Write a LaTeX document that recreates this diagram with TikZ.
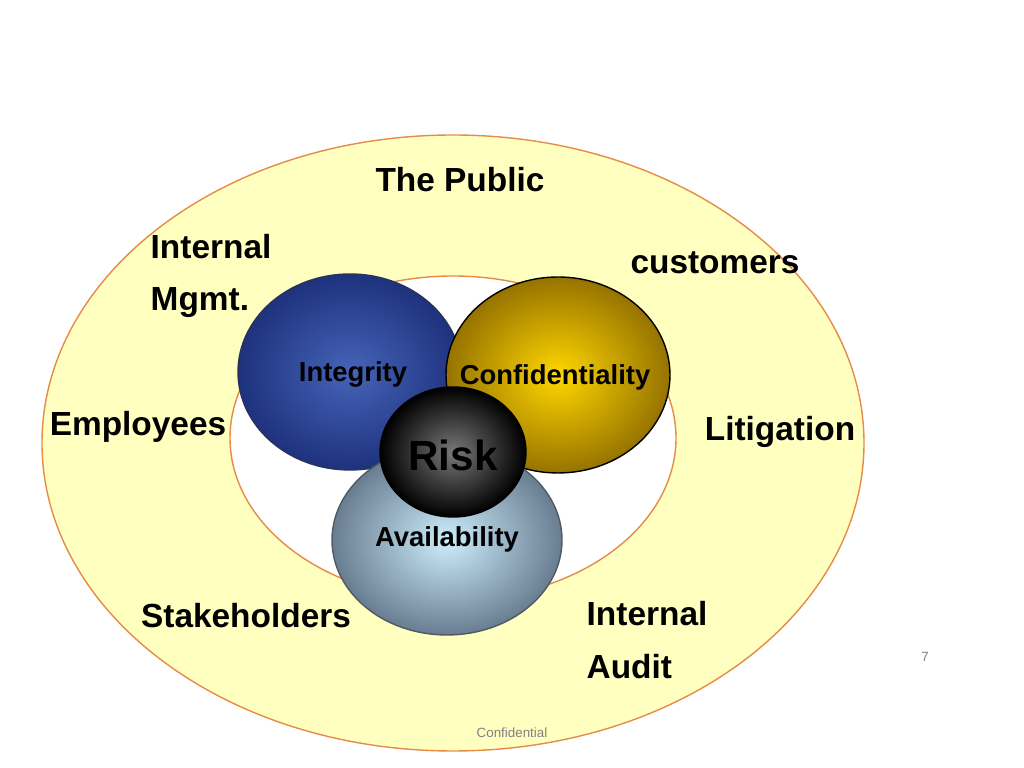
\documentclass[tikz,border=0pt]{standalone}
\usepackage{fontspec}
\setmainfont{Liberation Sans}
\definecolor{ringfill}{RGB}{255,255,192}
\definecolor{ringline}{RGB}{230,140,70}
\tikzset{
  label/.style={font=\bfseries\fontsize{9.5}{11}\selectfont, text=black, inner sep=0pt},
  small/.style={font=\bfseries\fontsize{7.8}{9}\selectfont, text=black, inner sep=0pt},
}
\begin{document}
\begin{tikzpicture}[x=0.01cm, y=-0.01cm]
    \useasboundingbox (0,0) rectangle (1024,768);
    % Outer ring
    \draw[ringline, fill=ringfill] (453,443) ellipse [x radius=411, y radius=308];
    \draw[ringline, fill=white] (453,438) ellipse [x radius=223, y radius=162];

    % Three circles
    \shade[inner color={rgb,255:red,70;green,100;blue,185}, outer color={rgb,255:red,30;green,50;blue,125}, draw={rgb,255:red,40;green,50;blue,90}]
        (350,372) ellipse [x radius=112, y radius=98];
    \shade[inner color={rgb,255:red,255;green,215;blue,0}, outer color={rgb,255:red,150;green,115;blue,0}, draw=black]
        (558,375) ellipse [x radius=112, y radius=98];
    \shade[inner color={rgb,255:red,205;green,238;blue,252}, outer color={rgb,255:red,105;green,125;blue,145}, draw={rgb,255:red,80;green,90;blue,100}]
        (447,540) ellipse [x radius=115, y radius=95];

    % Risk core
    \shade[inner color={rgb,255:red,120;green,120;blue,120}, outer color=black, draw=black]
        (453,452) ellipse [x radius=73, y radius=65];

    % Labels
    \node[label] (public) at (460,180) {The Public};
    \node[label, anchor=west, align=left] (mgmt) at (150,276) {Internal\\[4pt]Mgmt.};
    \node[label] (customers) at (715,263) {customers};
    \node[label] (employees) at (138,427) {Employees};
    \node[label] (litigation) at (780,432) {Litigation};
    \node[label] (stake) at (246,616) {Stakeholders};
    \node[label, anchor=west, align=left] (audit) at (586,640) {Internal\\[4pt]Audit};
    \node[small] (integrity) at (353,374) {Integrity};
    \node[small] (confid) at (555,377) {Confidentiality};
    \node[small] (avail) at (447,539) {Availability};
    \node[font=\bfseries\fontsize{12}{14}\selectfont, inner sep=0pt] (risk) at (453,455) {Risk};

    % Footer
    \node[font=\fontsize{3.8}{4}\selectfont, text=gray] (foot) at (512,733) {Confidential};
    \node[font=\fontsize{3.8}{4}\selectfont, text=gray] (page) at (925,657) {7};
\end{tikzpicture}
\end{document}
